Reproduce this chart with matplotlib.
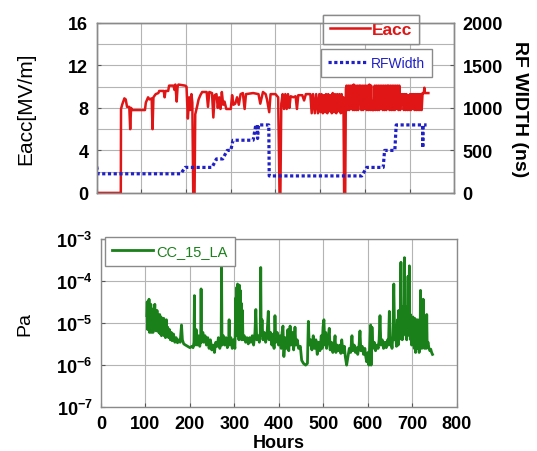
import matplotlib
matplotlib.use("Agg")
import matplotlib.pyplot as plt
from matplotlib.lines import Line2D

plt.rcParams['font.family'] = ['Liberation Sans', 'DejaVu Sans']
plt.rcParams['mathtext.fontset'] = 'custom'
plt.rcParams['mathtext.rm'] = 'Liberation Sans'
plt.rcParams['mathtext.bf'] = 'Liberation Sans:bold'

# ---- top panel: accelerating field (left axis) ----
eacc_hours = [
    0, 54, 54.5, 57, 62, 65, 68, 73, 75, 77,
    80, 108, 110, 115, 118, 123, 125, 127, 132, 138,
    140, 150, 152, 154, 160, 162, 172, 174, 176, 179,
    181, 183, 198, 201, 204, 207, 209, 212, 214, 216,
    219, 220.5, 225, 228, 232, 236, 246, 249, 252, 258,
    261, 264, 268, 271, 274, 277, 280, 283, 286, 290,
    300, 303, 306, 310, 314, 318, 322, 327, 331, 334,
    350, 362, 366, 372, 378, 381, 386, 389, 400, 406,
    409, 411, 413, 416, 419, 422, 425, 428, 431, 434,
    440, 445, 448, 451, 460, 464, 468, 478, 481, 484,
    488, 491, 495, 498, 501, 503, 506, 508, 511, 513,
    516, 518, 521, 523, 526, 528, 531, 533, 536, 538,
    541, 543, 546, 548, 551, 552, 553.5, 556, 557.5, 559,
    561, 563, 565, 567, 569, 571, 573, 575, 577, 579,
    581, 583, 585, 587, 590, 592, 594, 596, 598, 600,
    602, 604, 606, 608, 610, 612, 614, 616, 620, 622,
    624, 626, 628, 630, 632, 634, 636, 638, 640, 642,
    644, 646, 648, 650, 653, 655, 657, 659, 661, 663,
    665, 667, 669, 671, 673, 675, 677, 679, 681, 683,
    685, 687, 689, 691, 693, 695, 697, 699, 701, 703,
    705, 707, 709, 711, 713, 715, 717, 719, 721, 723,
    725, 727, 729, 732, 733, 734, 742,
]
eacc_values = [
    0, 0, 7.9, 8.3, 8.9, 8.8, 8.1, 8.1, 6.0, 8.0,
    7.8, 7.8, 8.5, 9.0, 8.8, 8.9, 6.0, 9.0, 9.3, 9.4,
    9.6, 9.6, 9.0, 9.6, 9.6, 10.1, 10.1, 9.7, 10.2, 8.6,
    10.0, 10.2, 10.1, 10.0, 7.0, 9.0, 7.8, 9.3, 8.5, 0,
    0, 7.4, 8.2, 8.8, 9.2, 9.5, 9.5, 8.1, 9.5, 9.4,
    7.1, 9.2, 9.3, 8.0, 9.0, 7.9, 9.5, 8.3, 8.6, 7.9,
    7.9, 9.2, 8.3, 8.4, 9.0, 8.3, 9.3, 9.4, 7.9, 9.3,
    9.4, 9.3, 8.4, 9.5, 9.3, 8.8, 7.6, 9.3, 9.3, 9.0,
    0, 0, 8.4, 9.3, 7.9, 9.3, 7.9, 9.3, 8.0, 9.1,
    9.0, 9.1, 7.9, 9.2, 9.2, 8.7, 9.3, 9.3, 7.5, 9.3,
    7.5, 9.3, 7.5, 9.3, 7.6, 9.3, 7.5, 9.2, 7.6, 9.3,
    7.5, 9.3, 7.7, 9.2, 7.5, 9.4, 7.6, 9.3, 7.5, 9.3,
    7.7, 9.3, 7.5, 9.3, 7.6, 9.0, 0, 0, 9.8, 10.1,
    7.8, 10.1, 7.8, 10.1, 7.9, 10.1, 7.8, 10.2, 7.8, 10.1,
    7.8, 10.1, 7.8, 10.1, 10.1, 7.8, 10.1, 7.8, 10.1, 7.9,
    10.1, 7.8, 10.1, 7.8, 10.2, 7.8, 10.1, 7.8, 7.8, 10.1,
    7.8, 10.1, 7.8, 10.1, 7.8, 10.1, 7.9, 10.1, 7.8, 10.1,
    7.8, 10.1, 7.8, 10.1, 10.1, 7.8, 10.1, 7.8, 10.1, 7.8,
    10.1, 7.8, 10.1, 7.9, 10.1, 7.8, 10.1, 7.8, 9.3, 8.3,
    9.3, 7.8, 9.3, 7.8, 9.3, 7.8, 9.2, 7.8, 9.3, 7.8,
    9.3, 7.9, 9.3, 7.8, 9.3, 7.8, 9.3, 7.8, 9.3, 7.8,
    9.3, 7.8, 9.4, 9.4, 9.9, 9.4, 9.4,
]

# ---- top panel: RF pulse width (right axis) ----
rf_hours = [0, 3, 188, 198, 258, 268, 282, 292, 300, 305,
            350, 356, 359, 360, 362, 385, 386, 593, 604, 641,
            644, 667, 670, 729, 729.5, 730, 738]
rf_ns = [310, 225, 225, 300, 300, 400, 400, 500, 500, 620,
         620, 800, 800, 640, 800, 800, 200, 200, 300, 300,
         500, 500, 800, 800, 530, 800, 800]

# ---- bottom panel: vacuum pressure ----
cc_hours = [
    103, 104, 105, 106, 107, 108, 109, 110, 111, 112,
    113, 114, 115, 116, 117, 118, 119, 121, 122, 123,
    124, 126, 127, 129, 130, 132, 133, 135, 136, 138,
    139, 141, 142, 144, 145, 147, 148, 150, 152, 154,
    156, 158, 160, 163, 166, 169, 172, 175, 178, 181,
    183, 186, 190, 195, 200, 204, 207, 209, 210, 211,
    214, 216, 219, 222, 224, 225, 226, 229, 231, 234,
    237, 240, 243, 246, 249, 252, 255, 258, 261, 264,
    267, 270, 271, 272, 275, 278, 281, 284, 287, 288,
    289, 292, 295, 298, 301, 303, 304, 305, 306, 307,
    308, 309, 310, 311, 312, 313, 314, 315, 316, 318,
    319, 322, 325, 328, 331, 334, 337, 340, 343, 346,
    348, 350, 353, 356, 358, 359, 360, 362, 364, 367,
    370, 373, 376, 378, 381, 384, 387, 389, 391, 393,
    396, 399, 402, 405, 407, 409, 411, 414, 417, 420,
    422, 425, 427, 430, 433, 436, 438, 441, 444, 448,
    451, 455, 460, 464, 466, 468, 471, 474, 477, 480,
    483, 486, 489, 492, 495, 497, 499, 501, 503, 505,
    507, 510, 513, 515, 518, 521, 524, 526, 528, 531,
    534, 537, 539, 541, 544, 547, 549, 552, 555, 558,
    561, 564, 566, 569, 572, 575, 577, 580, 582, 584,
    587, 590, 593, 595, 597, 600, 602, 604, 606, 607,
    609, 611, 614, 617, 620, 623, 625, 627, 629, 632,
    635, 638, 641, 644, 646, 648, 650, 652, 654, 656,
    658, 660, 662, 664, 666, 668, 669, 670, 671, 672,
    673, 674, 675, 676, 677, 678, 679, 680, 681, 682,
    683, 684, 685, 686, 687, 688, 689, 690, 691, 692,
    693, 694, 695, 696, 697, 698, 699, 700, 701, 702,
    703, 704, 705, 706, 707, 708, 709, 710, 711, 712,
    713, 714, 715, 716, 717, 718, 719, 720, 721, 722,
    723, 724, 725, 726, 727, 728, 729, 730, 731, 732,
    733, 735, 737, 739, 741, 743, 745,
]
cc_pa = [
    1.5e-5, 3.2e-5, 7e-6, 2.4e-5, 1.0e-5, 3.7e-5, 6e-6, 2.0e-5, 8e-6, 2.8e-5,
    6e-6, 1.8e-5, 7e-6, 1.4e-5, 6e-6, 2.2e-5, 8e-6, 2.8e-5, 7e-6, 1.6e-5,
    6.5e-6, 2.0e-5, 7e-6, 1.2e-5, 6e-6, 1.6e-5, 5.5e-6, 1.4e-5, 5e-6, 1.1e-5,
    5.5e-6, 1.3e-5, 5e-6, 9e-6, 4.5e-6, 1.2e-5, 5e-6, 8e-6, 4.5e-6, 7e-6,
    4e-6, 6e-6, 3.8e-6, 5.5e-6, 3.5e-6, 4.5e-6, 3.4e-6, 4e-6, 3.5e-6, 9e-6,
    4e-6, 3.2e-6, 3.0e-6, 2.8e-6, 2.6e-6, 2.8e-6, 2.6e-6, 3.5e-6, 4.5e-5, 3e-6,
    7e-6, 3e-6, 5e-6, 2.8e-6, 4e-6, 6.5e-5, 3.5e-6, 6e-6, 3.5e-6, 5e-6,
    3e-6, 4.5e-6, 2.5e-6, 4e-6, 2.3e-6, 3e-6, 2e-6, 3.5e-6, 2.8e-6, 4.5e-6,
    2.5e-6, 3.5e-6, 2.1e-4, 3e-6, 5e-6, 3e-6, 4.5e-6, 2.6e-6, 4e-6, 1.2e-5,
    3e-6, 4.5e-6, 2.5e-6, 4e-6, 2.5e-6, 4e-5, 5e-6, 7e-5, 8e-6, 8.5e-5,
    6e-6, 5e-5, 4e-6, 8e-5, 1e-5, 6e-5, 5e-6, 3e-5, 4e-6, 2e-5,
    4e-6, 5e-6, 3.5e-6, 4.5e-6, 3.2e-6, 4.5e-6, 3.5e-6, 5e-6, 3e-6, 6e-6,
    2.1e-5, 4e-6, 5e-6, 3.5e-6, 6e-6, 2.1e-4, 5e-6, 1.2e-5, 4e-6, 6e-6,
    3.5e-6, 5e-6, 1.9e-5, 4e-6, 6e-6, 3e-6, 5.5e-6, 2.5e-6, 1.5e-5, 3.5e-6,
    6e-6, 3e-6, 5e-6, 2.5e-6, 6e-6, 8.5e-6, 1.6e-6, 4.5e-6, 2.5e-6, 7e-6,
    2.2e-6, 8.5e-6, 3e-6, 6e-6, 2.3e-6, 8e-6, 3e-6, 4e-6, 2.5e-6, 2.8e-6,
    1.3e-6, 1.1e-6, 1.0e-6, 1.1e-6, 1.1e-5, 3e-6, 4e-6, 2.3e-6, 5e-6, 2.5e-6,
    4e-6, 1.8e-6, 3.5e-6, 2.2e-6, 5e-6, 2.5e-6, 8e-6, 1.2e-5, 3e-6, 6e-6,
    2.5e-6, 4e-6, 7.5e-6, 2.3e-6, 3.5e-6, 2e-6, 3e-6, 5e-6, 2e-6, 3e-6,
    2.2e-6, 3e-6, 1.9e-6, 4e-6, 2e-6, 2.8e-6, 1.6e-6, 1.0e-6, 1.6e-6, 2.5e-6,
    2e-6, 5e-6, 2.2e-6, 3e-6, 2e-6, 2.6e-6, 1.8e-6, 3e-6, 6.5e-6, 2.2e-6,
    2.8e-6, 1.8e-6, 2.5e-6, 1.6e-6, 1.2e-6, 2e-6, 1.0e-6, 3e-6, 9e-6, 1.0e-6,
    8e-6, 2.5e-6, 3.5e-6, 2.2e-6, 3e-6, 2.5e-6, 4e-6, 1.5e-5, 3e-6, 4e-6,
    2.5e-6, 3.5e-6, 2.6e-6, 4e-6, 3e-6, 1.9e-5, 3e-6, 4e-6, 2.5e-6, 5e-6,
    8.5e-5, 4e-6, 6e-6, 2.8e-6, 1.2e-5, 3e-6, 2e-5, 4e-6, 1.5e-5, 5e-6,
    2e-5, 2.8e-4, 6e-6, 1.8e-5, 4e-6, 2.5e-5, 5e-6, 2e-5, 8e-6, 3.6e-4,
    1e-5, 2.5e-5, 6e-6, 2e-5, 4e-6, 1.5e-5, 5e-6, 1.3e-4, 8e-6, 2e-5,
    2.3e-4, 7e-6, 1.6e-5, 4e-6, 1.3e-5, 3e-6, 1.2e-5, 3.5e-6, 1.4e-5, 3e-6,
    1.2e-5, 2.5e-6, 1.3e-5, 3e-6, 2e-6, 1.2e-5, 3e-6, 1.1e-5, 2.5e-6, 1.2e-5,
    3e-6, 1.1e-5, 2e-6, 1.0e-5, 3e-6, 6e-5, 4e-6, 1.2e-5, 2.5e-6, 1.0e-5,
    3e-6, 3.7e-5, 4e-6, 1.0e-5, 2.5e-6, 1.2e-5, 3e-6, 1.0e-5, 2.5e-6, 1.6e-5,
    3e-6, 3.5e-6, 2.5e-6, 2.2e-6, 2.4e-6, 2e-6, 1.8e-6,
]

eacc_ticks = [0, 4, 8, 12, 16]
rf_ticks = [0, 500, 1000, 1500, 2000]
hour_ticks = [0, 100, 200, 300, 400, 500, 600, 700, 800]
pa_ticks = [1e-7, 1e-6, 1e-5, 1e-4, 1e-3]
pa_labels = [r'$\mathbf{10^{-7}}$', r'$\mathbf{10^{-6}}$', r'$\mathbf{10^{-5}}$',
             r'$\mathbf{10^{-4}}$', r'$\mathbf{10^{-3}}$']

RED = '#e01515'
BLUE = '#2020c8'
GREEN = '#1a801a'
GRID = '#b4b4b4'
FRAME = '#8a8a8a'

fig = plt.figure(figsize=(5.37, 4.52), dpi=100)


def style_axes(ax):
    for sp in ax.spines.values():
        sp.set_color(FRAME)
        sp.set_linewidth(1.0)
    ax.tick_params(direction='in', length=3, color='#555555', width=0.8,
                   labelsize=13, pad=6)
    for lab in ax.get_xticklabels() + ax.get_yticklabels():
        lab.set_fontweight('bold')


# top panel
ax1 = fig.add_axes([0.180, 0.571, 0.666, 0.376])
ax1.plot(eacc_hours, eacc_values, color=RED, lw=1.8, zorder=3)
ax1.set_xlim(0, 800)
ax1.set_ylim(0, 16)
ax1.set_xticks(hour_ticks)
ax1.set_xticklabels([])
ax1.set_yticks(eacc_ticks)
ax1.set_yticks([2, 6, 10, 14], minor=True)
ax1.tick_params(which='minor', length=0)
ax1.grid(True, which='both', color=GRID, lw=0.8)
ax1.set_axisbelow(True)
ax1.set_ylabel('Eacc[MV/m]', fontsize=15, labelpad=24)
style_axes(ax1)

ax2 = ax1.twinx()
ax2.plot(rf_hours, rf_ns, color=BLUE, lw=2.3, linestyle=(0, (1.0, 0.8)), zorder=2)
ax2.set_ylim(0, 2000)
ax2.set_yticks(rf_ticks)
ax2.set_ylabel('RF WIDTH (ns)', fontsize=14, fontweight='bold',
               rotation=270, labelpad=18)
style_axes(ax2)

leg1 = ax1.legend([Line2D([], [], color=RED, lw=1.8)], ['Eacc'],
                  loc='upper left', bbox_to_anchor=(0.633, 1.045),
                  borderaxespad=0, fancybox=False, edgecolor=FRAME,
                  framealpha=1, handlelength=2.3, handletextpad=0.1,
                  prop={'weight': 'bold', 'size': 12.5}, borderpad=0.4)
for t in leg1.get_texts():
    t.set_color(RED)
ax1.add_artist(leg1)
leg2 = ax2.legend([Line2D([], [], color=BLUE, lw=2.3, linestyle=(0, (1.0, 0.8)))],
                  ['RFWidth'], loc='upper left', bbox_to_anchor=(0.627, 0.845),
                  borderaxespad=0, fancybox=False, edgecolor=FRAME,
                  framealpha=1, handlelength=2.9, handletextpad=0.2,
                  prop={'size': 10}, borderpad=0.5)
for t in leg2.get_texts():
    t.set_color(BLUE)

# bottom panel
ax3 = fig.add_axes([0.188, 0.097, 0.663, 0.372])
ax3.plot(cc_hours, cc_pa, color=GREEN, lw=2.0, label='CC_15_LA')
ax3.set_yscale('log')
ax3.set_xlim(0, 800)
ax3.set_ylim(1e-7, 1e-3)
ax3.set_xticks(hour_ticks)
ax3.set_yticks(pa_ticks)
ax3.set_yticklabels(pa_labels)
ax3.yaxis.set_minor_locator(matplotlib.ticker.NullLocator())
ax3.grid(True, color=GRID, lw=0.8)
ax3.set_axisbelow(True)
ax3.set_ylabel('Pa', fontsize=14, labelpad=16)
ax3.set_xlabel('Hours', fontsize=13, fontweight='bold', labelpad=1)
style_axes(ax3)

leg3 = ax3.legend([Line2D([], [], color=GREEN, lw=2.0)], ['CC_15_LA'],
                  loc='upper left', bbox_to_anchor=(0.011, 1.012),
                  borderaxespad=0, fancybox=False, edgecolor=FRAME,
                  framealpha=1, handlelength=2.8, handletextpad=0.2,
                  prop={'size': 10.5}, borderpad=0.5)
for t in leg3.get_texts():
    t.set_color(GREEN)

fig.savefig('out.png', dpi=100)
